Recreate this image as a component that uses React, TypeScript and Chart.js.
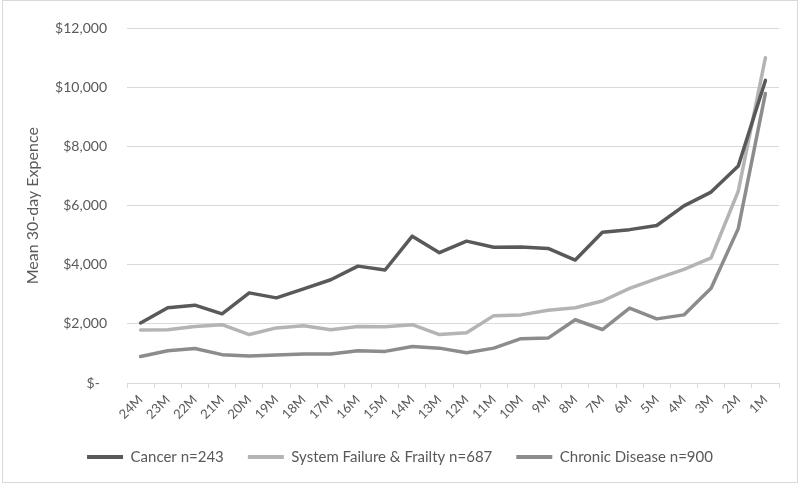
import React, { useEffect, useRef } from "react";
import { Chart, registerables } from "chart.js";

Chart.register(...registerables);

const months: string[] = [
  "24M", "23M", "22M", "21M", "20M", "19M", "18M", "17M", "16M", "15M", "14M", "13M",
  "12M", "11M", "10M", "9M", "8M", "7M", "6M", "5M", "4M", "3M", "2M", "1M",
];

const cancer: number[] = [
  2030, 2545, 2635, 2340, 3050, 2880, 3185, 3495, 3955, 3825, 4970, 4410,
  4800, 4595, 4605, 4555, 4160, 5100, 5190, 5330, 5995, 6460, 7340, 10240,
];

const systemFailure: number[] = [
  1790, 1800, 1915, 1975, 1640, 1865, 1940, 1800, 1910, 1900, 1975, 1640,
  1700, 2280, 2305, 2460, 2545, 2775, 3205, 3535, 3845, 4235, 6490, 11010,
];

const chronic: number[] = [
  895, 1090, 1165, 960, 915, 950, 985, 985, 1090, 1070, 1235, 1180,
  1025, 1180, 1500, 1520, 2140, 1810, 2535, 2170, 2305, 3205, 5225, 9800,
];

const seriesNames: string[] = [
  "Cancer n=243",
  "System Failure & Frailty n=687",
  "Chronic Disease n=900",
];
const seriesColors: string[] = ["#595959", "#b4b4b4", "#8c8c8c"];

const yTicks: number[] = [0, 2000, 4000, 6000, 8000, 10000, 12000];
const yTitle = "Mean 30-day Expence";

const FONT = "Lato, 'Open Sans', sans-serif";
const TEXT = "#595959";
const GRID = "#d9d9d9";

const frame = {
  id: "frame",
  afterDraw(chart: any) {
    const ctx = chart.ctx;
    ctx.save();
    ctx.strokeStyle = "#d9d9d9";
    ctx.lineWidth = 1;
    ctx.strokeRect(2.5, 0.5, 795, 482);
    ctx.restore();
  },
};

export default function App() {
  const ref = useRef<HTMLCanvasElement | null>(null);

  useEffect(() => {
    document.body.style.margin = "0";
    const canvas = ref.current;
    if (!canvas) return;
    const data = [cancer, systemFailure, chronic];
    const chart = new Chart(canvas, {
      type: "line",
      data: {
        labels: months,
        datasets: data.map((d, i) => ({
          label: seriesNames[i],
          data: d,
          borderColor: seriesColors[i],
          backgroundColor: seriesColors[i],
          borderWidth: 3.5,
          pointRadius: 0,
          pointHoverRadius: 0,
          tension: 0,
          borderJoinStyle: "round" as const,
          borderCapStyle: "round" as const,
          fill: false,
        })),
      },
      options: {
        animation: false,
        responsive: false,
        maintainAspectRatio: false,
        layout: { padding: { left: 21, right: 21, top: 20, bottom: 10.5 } },
        plugins: {
          tooltip: { enabled: false },
          legend: {
            position: "bottom",
            labels: {
              color: TEXT,
              font: { family: FONT, size: 15 },
              boxWidth: 36,
              boxHeight: 4,
              padding: 24,
              generateLabels: (ch: any) =>
                ch.data.datasets.map((ds: any, i: number) => ({
                  text: ds.label,
                  fillStyle: ds.borderColor,
                  strokeStyle: ds.borderColor,
                  lineWidth: 0,
                  hidden: false,
                  datasetIndex: i,
                  fontColor: TEXT,
                })),
            },
          },
        },
        scales: {
          x: {
            offset: true,
            grid: {
              display: true,
              offset: true,
              drawOnChartArea: false,
              drawTicks: true,
              tickLength: 5,
              color: GRID,
            },
            border: { display: true, color: GRID },
            ticks: {
              color: TEXT,
              font: { family: FONT, size: 13 },
              maxRotation: 45,
              minRotation: 45,
              padding: 4,
              autoSkip: false,
            },
            afterFit: (s: any) => {
              s.height = 42.5;
            },
          },
          y: {
            min: 0,
            max: 12000,
            afterBuildTicks: (s: any) => {
              s.ticks = yTicks.map((v) => ({ value: v }));
            },
            grid: { color: GRID, drawTicks: false },
            border: { display: false },
            ticks: {
              color: TEXT,
              font: { family: FONT, size: 14 },
              padding: 20,
              callback: (v: any) =>
                Number(v) === 0 ? "$-  " : "$" + Number(v).toLocaleString("en-US"),
            },
            title: {
              display: true,
              text: yTitle,
              color: TEXT,
              font: { family: FONT, size: 16, weight: "normal" },
              padding: { top: 2, bottom: 0 },
            },
            afterFit: (s: any) => {
              s.width = 106;
            },
          },
        },
      },
      plugins: [frame],
    });
    return () => chart.destroy();
  }, []);

  return (
    <div style={{ width: 800, height: 485 }}>
      <canvas ref={ref} width={800} height={485} style={{ display: "block" }} />
    </div>
  );
}
